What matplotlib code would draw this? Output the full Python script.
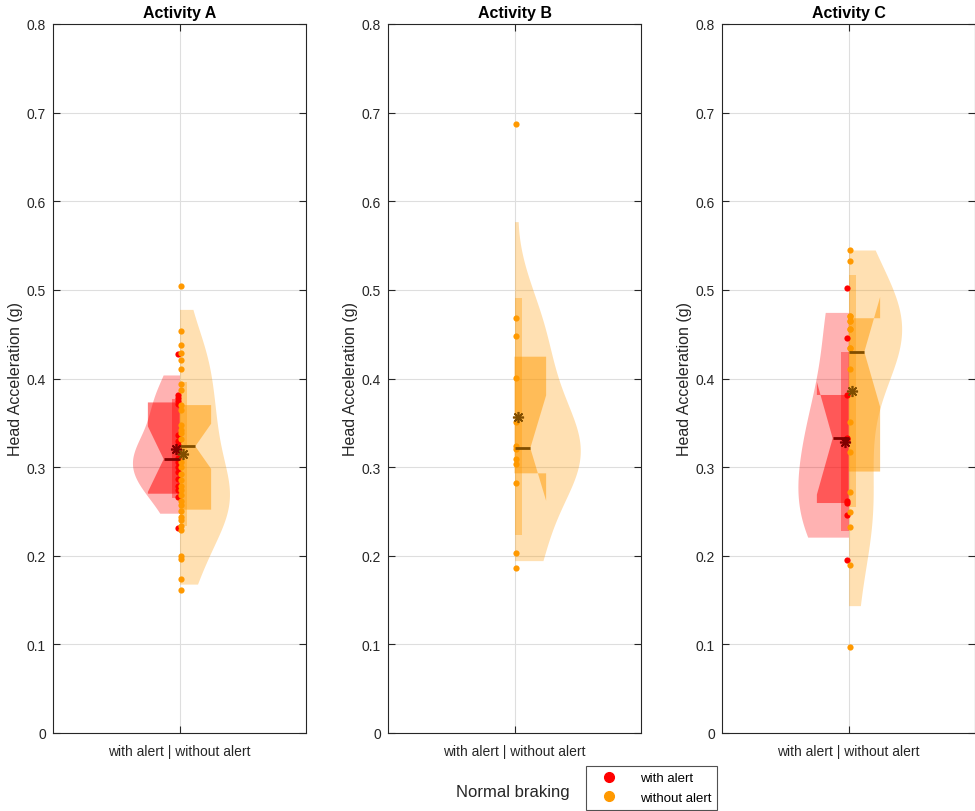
import numpy as np
import matplotlib.pyplot as plt
from matplotlib.lines import Line2D
from matplotlib.patches import Polygon, Rectangle

plt.rcParams['font.family'] = ['Liberation Sans', 'DejaVu Sans']

# data (head acceleration in g)
titles = ['Activity A', 'Activity B', 'Activity C']
a_alert = [0.428, 0.381, 0.378, 0.375, 0.371, 0.336, 0.330, 0.325, 0.318,
           0.310, 0.306, 0.300, 0.295, 0.287, 0.279, 0.274, 0.266, 0.231]
a_noalert = [0.504, 0.454, 0.438, 0.429, 0.421, 0.411, 0.394, 0.387, 0.370,
             0.365, 0.348, 0.342, 0.339, 0.332, 0.306, 0.300, 0.292, 0.285,
             0.279, 0.274, 0.268, 0.262, 0.257, 0.251, 0.244, 0.240, 0.234,
             0.229, 0.200, 0.196, 0.174, 0.161]
b_alert = []
b_noalert = [0.687, 0.468, 0.448, 0.401, 0.351, 0.324, 0.320, 0.309, 0.304,
             0.282, 0.203, 0.186]
c_alert = [0.5025, 0.446, 0.381, 0.333, 0.332, 0.262, 0.2595, 0.246, 0.1956]
c_noalert = [0.545, 0.533, 0.470, 0.470, 0.465, 0.465, 0.456, 0.456, 0.434,
             0.434, 0.411, 0.351, 0.317, 0.272, 0.249, 0.232, 0.190, 0.0967]

# summary stats read off the boxes  [alert, without alert] per activity
q1 = [[0.270, 0.252], [np.nan, 0.293], [0.2595, 0.295]]
med = [[0.309, 0.3235], [np.nan, 0.3215], [0.3325, 0.430]]
q3 = [[0.373, 0.370], [np.nan, 0.4246], [0.3814, 0.468]]
notch = [[0.037, 0.0255], [np.nan, 0.0595], [0.0635, 0.062]]
mean = [[0.321, 0.315], [np.nan, 0.357], [0.3287, 0.386]]
sd = [[0.056, 0.081], [np.nan, 0.134], [0.1007, 0.131]]
v_lo = [[0.248, 0.168], [np.nan, 0.1945], [0.221, 0.1437]]
v_hi = [[0.404, 0.478], [np.nan, 0.577], [0.4746, 0.545]]

# style
v_width = [[0.372, 0.395], [0, 0.52], [0.40, 0.42]]
bandw = [[0.028, 0.04], [0, 0.055], [0.055, 0.06]]
cols = [(1, 0, 0), (1, 0.6, 0)]
dark = [(0.5, 0, 0), (0.5, 0.3, 0)]
box_w = 0.25
strip_w = 0.06

data = [[a_alert, a_noalert], [b_alert, b_noalert], [c_alert, c_noalert]]

fig = plt.figure(figsize=(9.75, 8.12), dpi=100)
lefts = [53, 388, 722]
axs = []
for k in range(3):
    ax = fig.add_axes([lefts[k]/975, 1-734/812, 253/975, 709/812])
    axs.append(ax)
    for g in range(2):
        y = np.array(data[k][g])
        if len(y) == 0:
            continue
        s = -1 if g == 0 else 1
        c = cols[g]
        # half violin from kde
        yy = np.linspace(v_lo[k][g], v_hi[k][g], 300)
        d = np.exp(-0.5*((yy[:, None]-y[None, :])/bandw[k][g])**2).sum(axis=1)
        d = d/d.max()*v_width[k][g]
        ax.fill_betweenx(yy, 1, 1+s*d, color=c, alpha=0.3, lw=0, zorder=2)
        # notched box
        m = med[k][g]
        n = notch[k][g]
        xs = [1, 1+s*box_w, 1+s*box_w, 1+s*box_w/2, 1+s*box_w, 1+s*box_w, 1]
        ys = [q3[k][g], q3[k][g], m+n, m, m-n, q1[k][g], q1[k][g]]
        ax.add_patch(Polygon(np.column_stack([xs, ys]), closed=True, fc=c,
                             alpha=0.5, lw=0, zorder=3))
        # mean +- sd strip
        ax.add_patch(Rectangle((1, mean[k][g]-sd[k][g]), s*strip_w, 2*sd[k][g],
                               fc=c, alpha=0.35, lw=0, zorder=4))
        # points
        ax.scatter(np.full(len(y), 1+s*0.013), y, s=20, color=c, lw=0, zorder=5)
        # median and mean
        ax.plot([1, 1+s*box_w/2], [m, m], color=dark[g], lw=2, zorder=6,
                solid_capstyle='butt')
        ax.plot(1+s*0.025, mean[k][g], marker=(8, 2, 0), ms=8, mew=1.2,
                color=dark[g], ls='none', zorder=7)

    ax.set_xlim(0, 2)
    ax.set_ylim(0, 0.8)
    ax.set_yticks(np.arange(0, 0.81, 0.1))
    ax.set_yticklabels(['0', '0.1', '0.2', '0.3', '0.4', '0.5', '0.6', '0.7', '0.8'])
    ax.set_xticks([1])
    ax.set_xticklabels(['with alert | without alert'])
    ax.grid(True, color=(0.87, 0.87, 0.87), lw=0.8, zorder=0)
    ax.set_axisbelow(True)
    ax.tick_params(direction='in', length=5, width=0.8, labelsize=10,
                   colors=(0.15, 0.15, 0.15), top=True, right=True, pad=5)
    ax.tick_params(axis='x', pad=8)
    for sp in ax.spines.values():
        sp.set_color((0.15, 0.15, 0.15))
        sp.set_linewidth(0.8)
    ax.set_title(titles[k], fontsize=11.5, fontweight='bold', pad=5)
    ax.set_ylabel('Head Acceleration (g)', fontsize=11.5,
                  color=(0.15, 0.15, 0.15), labelpad=3)

fig.text(513/975, 1-793/812, 'Normal braking', ha='center', va='center',
         fontsize=12, color=(0.15, 0.15, 0.15))
handles = [Line2D([], [], marker='o', ls='none', color=cols[0], ms=7),
           Line2D([], [], marker='o', ls='none', color=cols[1], ms=7)]
leg = fig.legend(handles, ['with alert', 'without alert'], loc='lower left',
                 bbox_to_anchor=(585/975, 0.0), frameon=True, fancybox=False,
                 edgecolor=(0.15, 0.15, 0.15), fontsize=9.5, handletextpad=1.0,
                 borderpad=0.45, labelspacing=0.55, handlelength=2.6,
                 borderaxespad=0.1)
leg.get_frame().set_linewidth(0.8)

fig.savefig('out.png', dpi=100)
